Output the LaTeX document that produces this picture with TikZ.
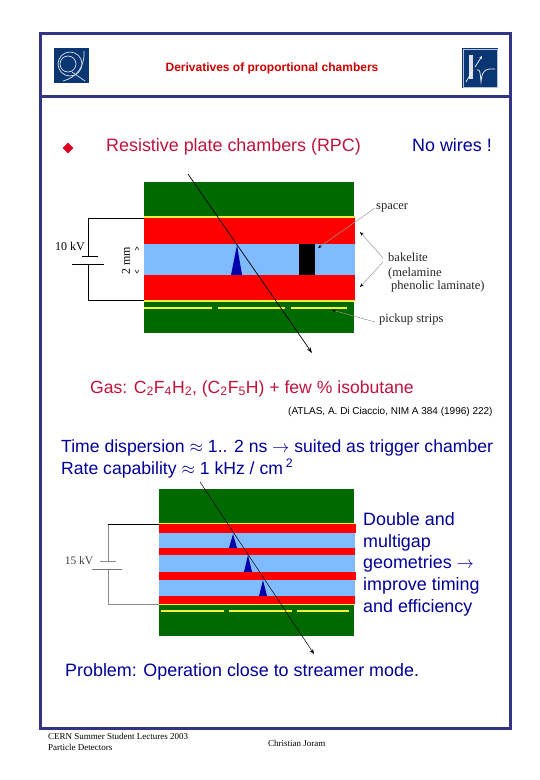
\documentclass[tikz,border=0pt]{standalone}
\usepackage{fontspec}
\setmainfont{Liberation Serif}
\setsansfont{Liberation Sans}
\usetikzlibrary{arrows.meta, positioning, shapes.geometric}
\definecolor{framecol}{RGB}{51,51,135}
\definecolor{logocol}{RGB}{10,55,115}
\definecolor{inkblue}{RGB}{0,0,150}
\definecolor{inkred}{RGB}{190,20,60}
\definecolor{titlered}{RGB}{204,0,0}
\definecolor{pcbgreen}{RGB}{0,106,0}
\definecolor{gascol}{RGB}{128,187,255}
\definecolor{stripcol}{RGB}{245,240,60}
\definecolor{avalcol}{RGB}{0,0,170}
\tikzset{
  txt/.style={inner sep=0pt, anchor=base west, font=\sffamily\fontsize{#1}{#1}\selectfont, text=inkblue},
  note/.style={inner sep=0pt, anchor=base west, font=\fontsize{#1}{#1}\selectfont, text=black!85},
  lead/.style={draw=black!40, line width=0.5pt, -{Stealth[length=4pt, width=3pt, black]}},
  wire/.style={line width=0.8pt},
  strip/.style={stripcol, line width=1.5pt},
}
\begin{document}
\begin{tikzpicture}[x=1pt, y=-1pt]
    \useasboundingbox (0,0) rectangle (540,780);
    \fill[white] (0,0) rectangle (540,780);
    % frame
    \draw[framecol, line width=3pt] (40.5,33) rectangle (510,728);
    \draw[framecol, line width=3pt] (40.5,96.5) -- (510,96.5);
    % logos
    \fill[logocol] (54,48) rectangle (89,83);
    \draw[white!85!logocol, line width=0.7pt] (70,64) circle (12);
    \draw[white!85!logocol, line width=0.7pt] (68,64) circle (8);
    \draw[white!85!logocol, line width=0.7pt] (63,81) .. controls (75,78) and (85,68) .. (84,51);
    \draw[white!85!logocol, line width=0.7pt] (72,72) -- (85,81);
    \fill[logocol] (462,48) rectangle (498,88);
    \draw[white!70!logocol, line width=0.5pt] (463,49) rectangle (497,87);
    \fill[white!85!logocol] (469,55) rectangle (473,79);
    \draw[white, line width=0.7pt, -{Stealth[length=3pt, width=3pt]}] (475,67) -- (482,56);
    \draw[white, line width=0.7pt] (466,82) -- (473,70);
    \draw[white, line width=0.7pt] (477,70) .. controls (479,70) and (480,68) .. (481,82) .. controls (482,72) and (484,68) .. (495,69);
    \node[inner sep=0pt, font=\sffamily\bfseries\fontsize{12}{12}\selectfont, text=titlered] (title) at (272,68) {Derivatives of proportional chambers};
    % first chamber
    \fill[pcbgreen] (144,182) rectangle (354,333);
    \fill[red] (144,218) rectangle (355,244);
    \fill[gascol] (144,244) rectangle (355,275);
    \fill[red] (144,275) rectangle (355,300);
    \fill[black] (299,244) rectangle (315,275);
    \fill[avalcol] (237,245) -- (242,275) -- (231,275) -- cycle;
    \draw[strip] (144,217) -- (355,217);
    \draw[strip] (144,301) -- (355,301);
    \draw[strip] (144,308) -- (212,308);
    \draw[strip] (218,308) -- (285,308);
    \draw[strip] (291,308) -- (347,308);
    \coordinate (trackA) at (188,174);
    \coordinate (trackB) at (312,353);
    \draw[-{Stealth[length=6pt, width=4pt]}, line width=0.7pt] (trackA) -- (trackB);
    % battery
    \coordinate (topA) at (144,218);
    \coordinate (botA) at (144,300);
    \coordinate (plusA) at (88,256);
    \coordinate (minusA) at (88,264);
    \draw[wire] (topA) -| (plusA);
    \draw[wire] (botA) -| (minusA);
    \draw[wire] (82,256) -- (98,256);
    \draw[wire] (72,264) -- (104,264);
    \node[inner sep=0pt, font=\fontsize{12}{12}\selectfont] (hv) at (70,246) {10 kV};
    \node[inner sep=0pt, rotate=90, font=\fontsize{12}{12}\selectfont] (gap) at (126,261) {2 mm};
    \draw[line width=0.5pt] (135,250) -- (137,247) -- (139,250);
    \draw[line width=0.5pt] (135,270) -- (137,273) -- (139,270);
    % labels
    \node[note=12.5] (spacer) at (376,209) {spacer};
    \node[note=12.5] (bake) at (388,261) {bakelite};
    \node[note=12.5] (mel) at (388,276) {(melamine};
    \node[note=12.5] (phen) at (391,289) {phenolic laminate)};
    \node[note=12.5] (pick) at (379,322) {pickup strips};
    \coordinate (bakeA) at (383,258);
    \coordinate (bakeB) at (383,262);
    \draw[lead] (375,208) -- (318,248);
    \draw[lead] (bakeA) -- (360,232);
    \draw[lead] (bakeB) -- (360,287);
    \draw[lead] (375,322) -- (332,310);
    % texts
    \node[diamond, fill=red!88!blue, inner sep=0pt, minimum size=11pt] (bullet) at (68,148) {};
    \node[txt=17.9, text=inkred] (rpc) at (106,151) {Resistive plate chambers (RPC)};
    \node[txt=17.9] (nowires) at (412,151) {No wires !};
    \node[txt=17.6, text=inkred] (gas) at (90,393) {Gas: C\textsubscript{2}F\textsubscript{4}H\textsubscript{2}, (C\textsubscript{2}F\textsubscript{5}H) + few \% isobutane};
    \node[txt=10, text=black] (cite) at (288,414) {(ATLAS, A. Di Ciaccio, NIM A 384 (1996) 222)};
    \node[txt=17.6] (time) at (61,452) {Time dispersion $\approx$ 1.. 2 ns $\rightarrow$ suited as trigger chamber};
    \node[txt=17.6] (rate) at (61,474) {Rate capability $\approx$ 1 kHz / cm\,\textsuperscript{2}};
    % second chamber
    \fill[pcbgreen] (159,489) rectangle (354,636);
    \fill[red] (159,524) rectangle (356,533);
    \fill[gascol] (159,533) rectangle (355,548);
    \fill[red] (159,548) rectangle (355,555);
    \fill[gascol] (159,555) rectangle (355,572);
    \fill[red] (159,572) rectangle (356,580);
    \fill[gascol] (159,580) rectangle (355,596);
    \fill[red] (159,596) rectangle (355,604);
    \fill[avalcol] (233,534) -- (237,548) -- (229,548) -- cycle;
    \fill[avalcol] (248,555) -- (252,572) -- (244,572) -- cycle;
    \fill[avalcol] (263,580) -- (267,596) -- (259,596) -- cycle;
    \draw[stripcol, line width=1pt] (159,523.5) -- (355,523.5);
    \draw[stripcol, line width=1pt] (159,604.5) -- (355,604.5);
    \draw[strip] (161,611) -- (224,611);
    \draw[strip] (229,611) -- (292,611);
    \draw[strip] (297,611) -- (349,611);
    \coordinate (trackC) at (200,482);
    \coordinate (trackD) at (314,654);
    \draw[-{Stealth[length=5pt, width=4pt]}, line width=0.5pt] (trackC) -- (trackD);
    \coordinate (topB) at (159,524);
    \coordinate (botB) at (159,604);
    \coordinate (plusB) at (108,561);
    \coordinate (minusB) at (108,569);
    \draw[wire, black!45] (108,524) -- (plusB);
    \draw[wire] (topB) -- (108,524);
    \draw[wire, black!45] (botB) -| (minusB);
    \draw[wire, black!45] (100,561) -- (116,561);
    \draw[black!55, line width=1pt] (92,569) -- (122,569);
    \node[inner sep=0pt, font=\fontsize{11.5}{11.5}\selectfont, text=black!75] (hvb) at (79,561) {15 kV};
    \node[txt=17.9] (dbl) at (363,525) {Double and};
    \node[txt=17.9] (mult) at (363,547) {multigap};
    \node[txt=17.9] (geo) at (363,568) {geometries $\rightarrow$};
    \node[txt=17.9] (impr) at (363,590) {improve timing};
    \node[txt=17.9] (eff) at (363,612) {and efficiency};
    \node[txt=17.9] (prob) at (65,676) {Problem: Operation close to streamer mode.};
    % footer
    \node[note=9, text=black] (footA) at (48,739) {CERN Summer Student Lectures 2003};
    \node[note=9, text=black] (footB) at (48,750) {Particle Detectors};
    \node[note=9, text=black] (footC) at (268,746) {Christian Joram};
\end{tikzpicture}
\end{document}
